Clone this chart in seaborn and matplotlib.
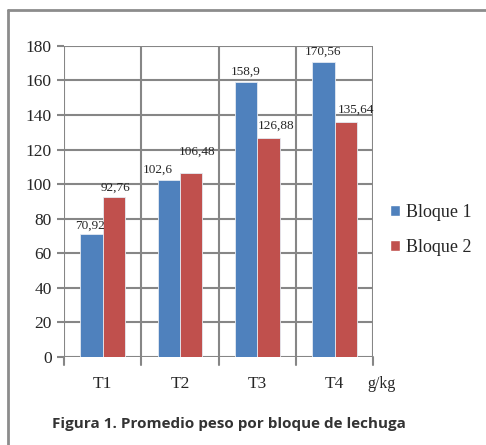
import matplotlib
matplotlib.use('Agg')
import matplotlib.pyplot as plt
import pandas as pd
import seaborn as sns
from matplotlib.lines import Line2D
from matplotlib.patches import Patch

categories = ['T1', 'T2', 'T3', 'T4']
bloque_1 = [70.92, 102.6, 158.9, 170.56]
bloque_2 = [92.76, 106.48, 126.88, 135.64]
series_names = ['Bloque 1', 'Bloque 2']
y_ticks = [0, 20, 40, 60, 80, 100, 120, 140, 160, 180]

BLUE = '#4F81BD'
RED = '#C0504D'
GRID = '#868686'

# label nudges (points) copied from the hand-placed labels in the original
label_shift = {
    'Bloque 1': [(-1.5, 2), (-8, 3), (0, 3), (0, 3)],
    'Bloque 2': [(1, 2), (4, 11), (5.5, 4.5), (7.5, 5)],
}

df = pd.DataFrame({
    'cat': categories * 2,
    'value': bloque_1 + bloque_2,
    'serie': [series_names[0]] * 4 + [series_names[1]] * 4,
})

sns.set_style('white')
plt.rcParams['font.family'] = ['Liberation Serif', 'DejaVu Serif']

fig = plt.figure(figsize=(4.86, 4.45), dpi=100)
ax = fig.add_axes([0.132, 0.198, 0.636, 0.699])

sns.barplot(data=df, x='cat', y='value', hue='serie', order=categories,
            hue_order=series_names, palette=[BLUE, RED], saturation=1,
            width=0.58, edgecolor='#e4eaf2', linewidth=0.6, ax=ax,
            legend=False, zorder=3)

# value labels above bars, comma decimal
for cont, name in zip(ax.containers, series_names):
    for bar, (dx, dy) in zip(cont, label_shift[name]):
        h = bar.get_height()
        ax.annotate(f'{h:g}'.replace('.', ','),
                    (bar.get_x() + bar.get_width() / 2, h),
                    xytext=(dx, dy), textcoords='offset points',
                    ha='center', va='bottom', fontsize=9.5, zorder=4)

ax.set_xlim(-0.5, 3.5)
ax.set_ylim(0, 180)
ax.set_yticks(y_ticks)
ax.set_yticklabels([str(t) for t in y_ticks], fontsize=12.5)
ax.set_xticks(range(4))
ax.set_xticklabels(categories, fontsize=12.5)
ax.set_xlabel('')
ax.set_ylabel('')

# gridlines: horizontal at y ticks, vertical at category boundaries
for t in y_ticks:
    ax.axhline(t, color=GRID, lw=1.5, zorder=1)
for b in [-0.5, 0.5, 1.5, 2.5, 3.5]:
    ax.axvline(b, color=GRID, lw=1.5, zorder=1)
    ax.plot([b, b], [0, -0.025], transform=ax.get_xaxis_transform(),
            color=GRID, lw=1.5, clip_on=False)
for s in ax.spines.values():
    s.set_visible(False)
ax.tick_params(axis='y', length=5, width=1.5, color=GRID, pad=4, left=True)
ax.tick_params(axis='x', length=0, pad=14)

ax.text(0.982, -0.062, 'g/kg', transform=ax.transAxes, fontsize=11.5,
        ha='left', va='top')

handles = [Patch(facecolor=BLUE, label=series_names[0]),
           Patch(facecolor=RED, label=series_names[1])]
fig.legend(handles=handles, loc='center left', bbox_to_anchor=(0.77, 0.483),
           frameon=False, fontsize=13, handlelength=0.55, handleheight=0.55,
           handletextpad=0.3, labelspacing=1.0)

# outer frame (top and left)
fig.add_artist(Line2D([0.017, 1.0], [0.978, 0.978], color='#8c8c8c', lw=2))
fig.add_artist(Line2D([0.017, 0.017], [0.0, 0.978], color='#8c8c8c', lw=2))

fig.text(0.108, 0.047, 'Figura 1. Promedio peso por bloque de lechuga',
         fontsize=11, fontweight='bold', color='#333333', family='Open Sans',
         va='center')

fig.savefig('out.png', dpi=100)
